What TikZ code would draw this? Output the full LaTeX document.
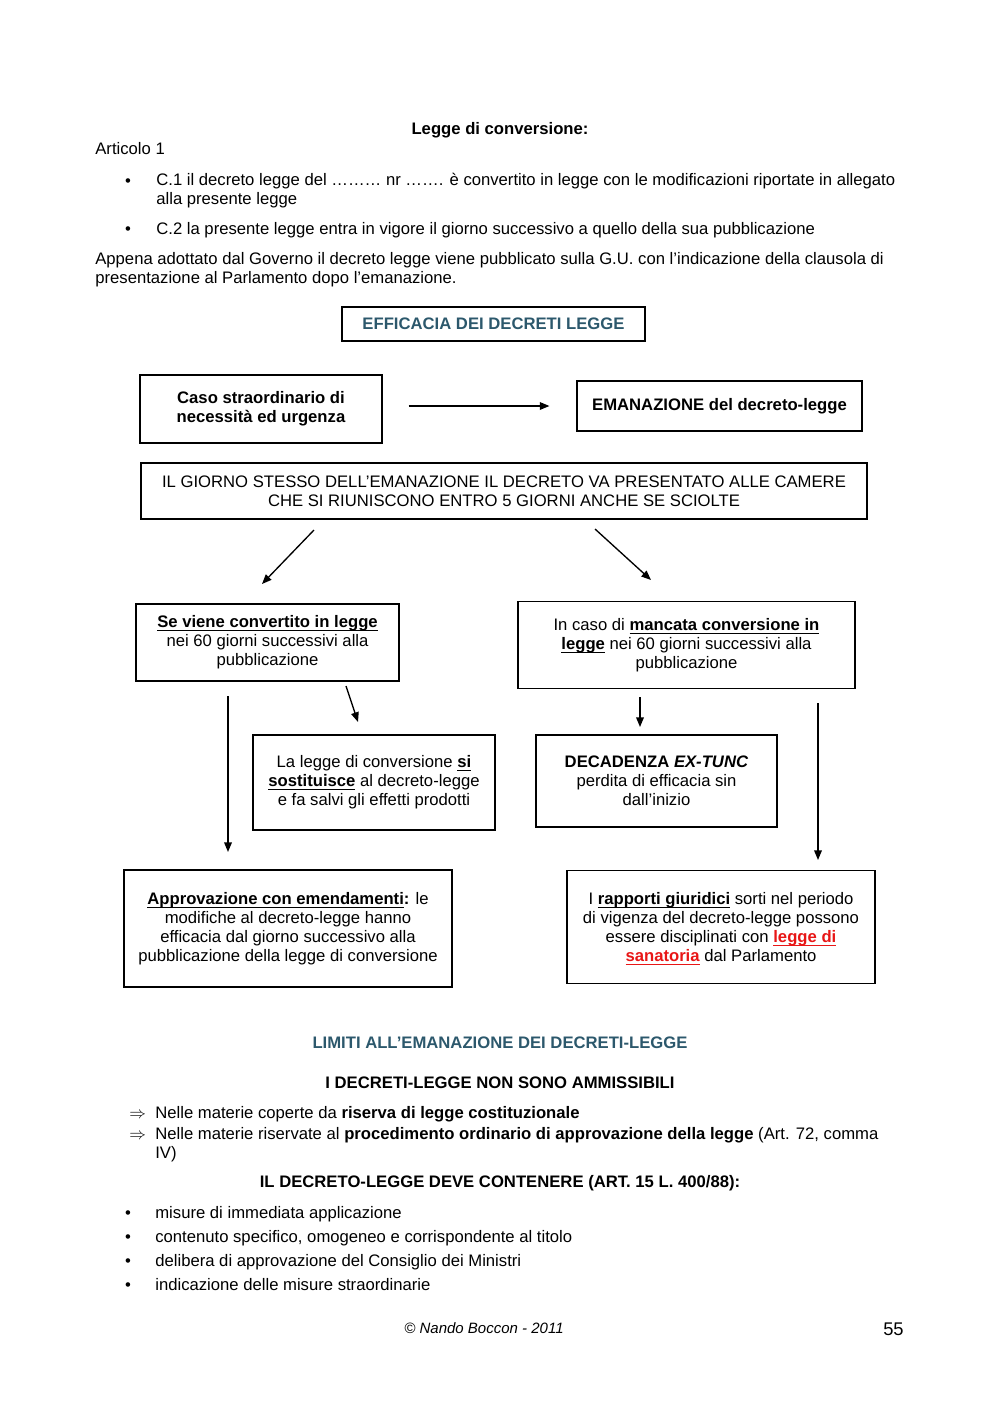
\documentclass[tikz,border=0pt]{standalone}
\usepackage{fontspec}
\setmainfont{Liberation Sans}
\usepackage{tikz}
\usetikzlibrary{shapes,arrows,arrows.meta,calc}
\definecolor{verdeblu}{RGB}{44,88,108}
\definecolor{rosso}{RGB}{232,22,22}
\newcommand{\corpo}{\fontsize{10}{11.4}\selectfont}
\newcommand{\sott}[1]{\leavevmode\setbox0=\hbox{#1}\rlap{\smash{\rule[-2.1pt]{\wd0}{0.6pt}}}\box0\relax}
\tikzstyle{line} = [draw, line width=0.8pt, -{Triangle[length=5.8pt,width=4.6pt]}]
\tikzstyle{block} = [draw, line width=0.7pt, rectangle, text centered, align=center, inner sep=0pt, font=\corpo]
\tikzstyle{testo} = [anchor=base west, inner sep=0pt, align=left, font=\corpo]
\tikzstyle{titolo} = [anchor=base, inner sep=0pt, font=\corpo\bfseries]
\tikzstyle{punto} = [anchor=base, inner sep=0pt, font=\corpo]

\begin{document}
\begin{tikzpicture}[x=0.6pt, y=-0.6pt]
        \useasboundingbox (0,0) rectangle (1000,1414);
        % testo iniziale
        \node[titolo] (legge) at (500,134) {Legge di conversione:};
        \node[testo] (articolo) at (95,154) {Articolo 1};
        \node[punto] (punto1) at (128,186) {\textbullet};
        \node[testo] (comma1) at (156,204) {C.1 il decreto legge del ……… nr ……. è convertito in legge con le modificazioni riportate in allegato\\alla presente legge};
        \node[punto] (punto2) at (128,234) {\textbullet};
        \node[testo] (comma2) at (156,234) {C.2 la presente legge entra in vigore il giorno successivo a quello della sua pubblicazione};
        \node[testo] (appena) at (95,283) {Appena adottato dal Governo il decreto legge viene pubblicato sulla G.U. con l’indicazione della clausola di\\presentazione al Parlamento dopo l’emanazione.};
        % schema
        \node[block, minimum width=181.8pt, minimum height=20.4pt, text=verdeblu, font=\corpo\bfseries] (efficacia) at (493.5,324) {EFFICACIA DEI DECRETI LEGGE};
        \node[block, minimum width=145.2pt, minimum height=40.8pt, font=\corpo\bfseries] (caso) at (261,409) {Caso straordinario di\\necessità ed urgenza};
        \node[block, minimum width=171pt, minimum height=30pt, font=\corpo\bfseries] (emanazione) at (719.5,406) {EMANAZIONE del decreto-legge};
        \node[block, minimum width=435.6pt, minimum height=33.6pt] (giorno) at (504,491) {IL GIORNO STESSO DELL’EMANAZIONE IL DECRETO VA PRESENTATO ALLE CAMERE\\CHE SI RIUNISCONO ENTRO 5 GIORNI ANCHE SE SCIOLTE};
        \node[block, minimum width=157.8pt, minimum height=46.2pt] (convertito) at (267.5,642.5) {\sott{\textbf{Se viene convertito in legge}}\\nei 60 giorni successivi alla\\pubblicazione};
        \node[block, minimum width=202.2pt, minimum height=52.2pt] (mancata) at (686.5,645) {In caso di \sott{\textbf{mancata conversione in}}\\\sott{\textbf{legge}} nei 60 giorni successivi alla\\pubblicazione};
        \node[block, minimum width=145.2pt, minimum height=57pt] (sostituisce) at (374,782.5) {La legge di conversione \sott{\textbf{si}}\\\sott{\textbf{sostituisce}} al decreto-legge\\e fa salvi gli effetti prodotti};
        \node[block, minimum width=144.6pt, minimum height=55.2pt] (decadenza) at (656.5,781) {\textbf{DECADENZA \textit{EX-TUNC}}\\perdita di efficacia sin\\dall’inizio};
        \node[block, minimum width=196.8pt, minimum height=70.2pt] (emendamenti) at (288,928.5) {\sott{\textbf{Approvazione con emendamenti}}\textbf{:} le\\modifiche al decreto-legge hanno\\efficacia dal giorno successivo alla\\pubblicazione della legge di conversione};
        \node[block, minimum width=184.8pt, minimum height=67.8pt] (rapporti) at (721,927) {I \sott{\textbf{rapporti giuridici}} sorti nel periodo\\di vigenza del decreto-legge possono\\essere disciplinati con \textcolor{rosso}{\sott{\textbf{legge di}}}\\\textcolor{rosso}{\sott{\textbf{sanatoria}}} dal Parlamento};
        % estremi delle frecce
        \coordinate (sx1) at (314,530);
        \coordinate (sx2) at (262,584);
        \coordinate (dx1) at (595,529);
        \coordinate (dx2) at (651,580);
        \coordinate (so1) at (346,686);
        \coordinate (so2) at (358,722);
        \coordinate (em1) at (228,696);
        \coordinate (em2) at (228,852);
        \coordinate (de1) at (640,697);
        \coordinate (de2) at (640,727);
        \coordinate (ra1) at (818,703);
        \coordinate (ra2) at (818,860);
        \path[line, shorten <=15.6pt, shorten >=16.2pt] (caso.east |- emanazione.west) -- (emanazione.west);
        \path[line] (sx1) -- (sx2);
        \path[line] (dx1) -- (dx2);
        \path[line] (so1) -- (so2);
        \path[line] (em1) -- (em2);
        \path[line] (de1) -- (de2);
        \path[line] (ra1) -- (ra2);
        % limiti
        \node[titolo, text=verdeblu] (limiti) at (500,1048) {LIMITI ALL’EMANAZIONE DEI DECRETI-LEGGE};
        \node[titolo] (ammissibili) at (500,1088) {I DECRETI-LEGGE NON SONO AMMISSIBILI};
        \node[testo] (freccia1) at (129,1118) {$\Rightarrow$};
        \node[testo] (materia1) at (155,1118) {Nelle materie coperte da \textbf{riserva di legge costituzionale}};
        \node[testo] (freccia2) at (129,1139) {$\Rightarrow$};
        \node[testo] (materia2) at (155,1158) {Nelle materie riservate al \textbf{procedimento ordinario di approvazione della legge} (Art. 72, comma\\IV)};
        \node[titolo] (contenere) at (500,1187) {IL DECRETO-LEGGE DEVE CONTENERE (ART. 15 L. 400/88):};
        \node[punto] (punto3) at (128,1218) {\textbullet};
        \node[testo] (misure) at (155,1218) {misure di immediata applicazione};
        \node[punto] (punto4) at (128,1242) {\textbullet};
        \node[testo] (contenuto) at (155,1242) {contenuto specifico, omogeneo e corrispondente al titolo};
        \node[punto] (punto5) at (128,1266) {\textbullet};
        \node[testo] (delibera) at (155,1266) {delibera di approvazione del Consiglio dei Ministri};
        \node[punto] (punto6) at (128,1290) {\textbullet};
        \node[testo] (indicazione) at (155,1290) {indicazione delle misure straordinarie};
        % pie' di pagina
        \node[anchor=base, inner sep=0pt, font=\fontsize{9}{10}\selectfont\itshape] (firma) at (484,1333) {© Nando Boccon - 2011};
        \node[anchor=base east, inner sep=0pt, font=\fontsize{11}{12}\selectfont] (pagina) at (904,1335) {55};
    \end{tikzpicture}
\end{document}
